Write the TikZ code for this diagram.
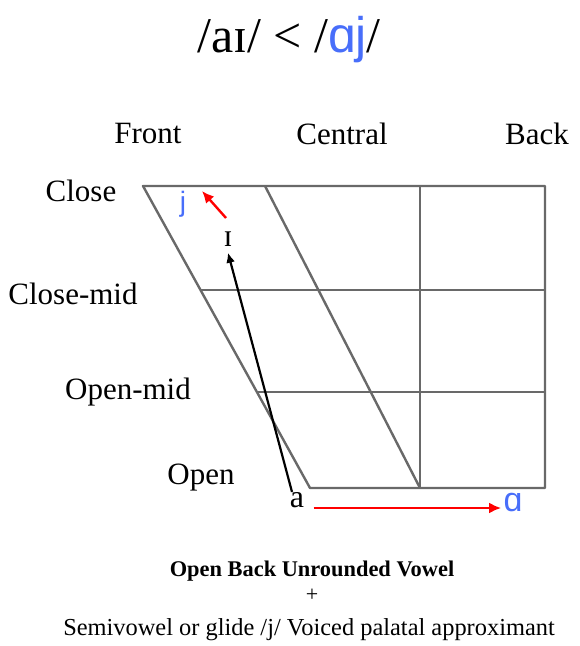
\documentclass[tikz,border=0pt]{standalone}
\usepackage{fontspec}
\setmainfont{Liberation Serif}
\newfontfamily\ipasans{Liberation Sans}
\usepackage{tikz}
\usetikzlibrary{positioning,arrows.meta}
\definecolor{ipablue}{RGB}{72,110,250}
\definecolor{gridgray}{RGB}{105,105,105}

\begin{document}
\begin{tikzpicture}[x=0.5pt,y=-0.5pt,>={Latex[length=6pt,width=5.5pt]},
    lbl/.style={font=\fontsize{15.5}{18}\selectfont,inner sep=0pt},
    grid/.style={draw=gridgray,line width=1.2pt,line join=round},
    glide/.style={->,red,line width=1.2pt}]

  \useasboundingbox (0,0) rectangle (579,646);

  % Titolo
  \node[font=\fontsize{25}{30}\selectfont] (title) at (289,40)
    {/aɪ/ < /{\ipasans\color{ipablue}ɑj}/};

  % Vertici del trapezio
  \coordinate (TL) at (143,186);
  \coordinate (TM) at (265,186);
  \coordinate (TC) at (420,186);
  \coordinate (TR) at (545,186);
  \coordinate (BL) at (310,488);
  \coordinate (BC) at (420,488);
  \coordinate (BR) at (545,488);
  \coordinate (CM) at (200.5,290);
  \coordinate (OM) at (257,392);

  % Griglia
  \draw[grid] (TL) -- (TR) -- (BR) -- (BL) -- cycle;
  \draw[grid] (TM) -- (BC);
  \draw[grid] (TC) -- (BC);
  \draw[grid] (CM) -- (CM -| TR);
  \draw[grid] (OM) -- (OM -| TR);

  % Etichette
  \node[lbl] (front) at (148,134) {Front};
  \node[lbl] (central) at (342,134) {Central};
  \node[lbl] (back) at (537,134) {Back};
  \node[lbl] (close) at (81,191) {Close};
  \node[lbl] (closemid) at (73,294) {Close-mid};
  \node[lbl] (openmid) at (128,392) {Open-mid};
  \node[lbl] (open) at (201,478) {Open};

  % Vocali
  \node[font=\fontsize{14}{16}\selectfont\ipasans,text=ipablue,inner sep=0pt] (j) at (183,204) {j};
  \node[font=\fontsize{16}{18}\selectfont,inner sep=0pt] (ih) at (228,239) {ɪ};
  \node[font=\fontsize{16}{18}\selectfont,inner sep=0pt] (a) at (297,500) {a};
  \node[font=\fontsize{17}{20}\selectfont\ipasans,text=ipablue,inner sep=0pt] (ah) at (513,503) {ɑ};
  \coordinate (jtip) at (202,191);
  \coordinate (gstart) at (226,218);

  % Transizioni
  \draw[->,line width=1.1pt,>={Latex[length=5pt,width=4.5pt]}] (a.north) ++(-5,0) coordinate (astart) -- ([yshift=-3]ih.south);
  \draw[glide] (gstart) -- (jtip);
  \draw[glide] (a.east) ++(9,8) coordinate (hstart) -- ([xshift=-1]hstart -| ah.west);

  % Didascalia
  \node[font=\fontsize{11.2}{13}\selectfont\bfseries] (name) at (312,571) {Open Back Unrounded Vowel};
  \node[font=\fontsize{11}{13}\selectfont] (plus) at (312,595) {+};
  \node[font=\fontsize{12.2}{14}\selectfont] (glidetxt) at (309,630) {Semivowel or glide /j/ Voiced palatal approximant};

\end{tikzpicture}
\end{document}
